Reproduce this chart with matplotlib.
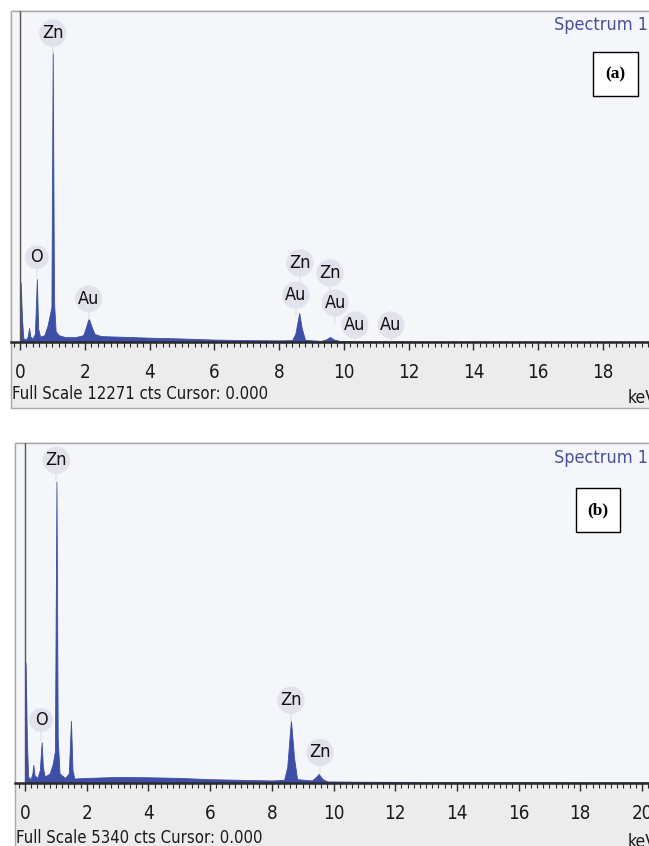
import matplotlib
matplotlib.use('Agg')
import matplotlib.pyplot as plt
from matplotlib import font_manager
from matplotlib.patches import Rectangle
from matplotlib.ticker import MultipleLocator

# spectrum (a): energy in keV, counts
kev_a = [0.00, 0.02, 0.06, 0.10, 0.18, 0.24, 0.28, 0.32, 0.38, 0.46, 0.52, 0.56, 0.62,
         0.75, 0.85, 0.92, 0.97, 1.01, 1.05, 1.10, 1.20, 1.40, 1.70, 1.95, 2.05, 2.12,
         2.20, 2.30, 2.50, 3.00, 4.00, 5.00, 6.00, 7.00, 8.00, 8.40, 8.50, 8.62, 8.70,
         8.80, 9.30, 9.45, 9.57, 9.70, 9.90, 11.0, 14.0, 19.5]
cts_a = [0, 2220, 900, 150, 80, 200, 520, 200, 120, 300, 2330, 500, 200,
         250, 600, 1000, 1300, 10820, 1500, 400, 250, 180, 180, 250, 600, 890,
         600, 300, 220, 200, 160, 130, 90, 70, 60, 70, 300, 1075, 500,
         80, 40, 100, 185, 90, 30, 25, 20, 15]

# spectrum (b)
kev_b = [0.00, 0.02, 0.06, 0.10, 0.18, 0.24, 0.27, 0.31, 0.40, 0.48, 0.54, 0.58, 0.64,
         0.80, 0.90, 0.97, 1.02, 1.06, 1.12, 1.30, 1.42, 1.49, 1.54, 1.60, 2.00, 3.00,
         4.00, 5.00, 6.00, 7.00, 8.00, 8.40, 8.50, 8.62, 8.72, 8.82, 9.30, 9.42, 9.52,
         9.65, 9.80, 11.0, 14.0, 20.3]
cts_b = [0, 1885, 700, 100, 60, 150, 283, 120, 80, 200, 640, 250, 100,
         150, 300, 500, 4730, 700, 150, 80, 150, 975, 200, 70, 80, 95,
         90, 80, 60, 50, 40, 50, 250, 990, 400, 60, 40, 90, 141,
         60, 25, 20, 15, 10]

full_scale_a = 12271
full_scale_b = 5340

# peak labels: text, keV, label height in counts
labels_a = [('Zn', 1.01, 11450), ('O', 0.52, 3140), ('Au', 2.12, 1600),
            ('Zn', 8.64, 2930), ('Au', 8.52, 1740), ('Zn', 9.57, 2560),
            ('Au', 9.73, 1450), ('Au', 10.34, 630), ('Au', 11.45, 630)]
labels_b = [('Zn', 1.02, 5070), ('O', 0.52, 990), ('Zn', 8.62, 1300), ('Zn', 9.56, 480)]

W, H = 649, 846

# look for a narrow sans font, fall back to Liberation Sans
narrow = None
for f in font_manager.fontManager.ttflist:
    fn = f.fname.lower()
    if ('narrow' in fn or 'condensed' in fn) and 'bold' not in fn and 'oblique' not in fn \
            and 'italic' not in fn and 'mono' not in fn and 'serif' not in fn.replace('sans', ''):
        narrow = font_manager.FontProperties(fname=f.fname)
        break
if narrow is None:
    narrow = font_manager.FontProperties(family='Liberation Sans')
    scale = 0.88
else:
    scale = 1.0

fig = plt.figure(figsize=(W / 100, H / 100), dpi=100)


def box(x0, y0, x1, y1):
    return [x0 / W, 1 - y1 / H, (x1 - x0) / W, (y1 - y0) / H]


def rect(x0, y0, x1, y1, z=-5, **kw):
    fig.patches.append(Rectangle((x0 / W, 1 - y1 / H), (x1 - x0) / W, (y1 - y0) / H,
                                 transform=fig.transFigure, zorder=z, **kw))


def fp(size):
    p = narrow.copy()
    p.set_size(size * scale)
    return p


def panel(left, top, base, bottom, zero_px, px_per_kev, kev, cts, full, labels,
          tick_max, tag, tag_box, txt_y, full_y):
    # frame and grey scale bar
    rect(left, top, W + 2, bottom, facecolor='#ececec', edgecolor='#a8a8a8', lw=1)
    rect(left, top, W + 2, base, facecolor='#f5f6fa', edgecolor='#a8a8a8', lw=1)
    ax = fig.add_axes(box(left, top, W, base))
    ax.patch.set_alpha(0)
    ax.set_xlim(-(zero_px - left) / px_per_kev, (W - zero_px) / px_per_kev)
    ax.set_ylim(0, full)
    ax.fill_between(kev, cts, 0, color='#3d4ea6', lw=0.6, edgecolor='#3d4ea6')
    ax.axvline(0, color='#555555', lw=1)
    for s in ['top', 'left', 'right']:
        ax.spines[s].set_visible(False)
    ax.spines['bottom'].set_color('#2a2a2a')
    ax.spines['bottom'].set_linewidth(1.8)
    ax.set_yticks([])
    ax.set_xticks(range(0, tick_max + 1, 2))
    ax.xaxis.set_minor_locator(MultipleLocator(0.2))
    ax.tick_params(axis='x', which='major', direction='out', length=6, width=1,
                   color='#2a2a2a', pad=9)
    ax.tick_params(axis='x', which='minor', direction='out', length=3.5, width=0.8,
                   color='#2a2a2a')
    for lb in ax.get_xticklabels():
        lb.set_fontproperties(fp(13.5))
        lb.set_color('#1a1a1a')
    for t, e, c in labels:
        ax.plot([e, e], [c - full * 0.06, c - full * 0.035], color='#e4e5ee',
                lw=1.2, zorder=1)
        ax.text(e, c, t, ha='center', va='center', fontproperties=fp(13),
                color='#111111', zorder=3,
                bbox=dict(boxstyle='circle,pad=0.16', facecolor='#e1e2ec',
                          edgecolor='none'))
    fig.text(648 / W, 1 - txt_y / H, 'Spectrum 1', ha='right', va='center',
             fontproperties=fp(13), color='#4a4f9e')
    bx0, by0, bx1, by1 = tag_box
    rect(bx0, by0, bx1, by1, z=5, facecolor='white', edgecolor='black', lw=1)
    fig.text((bx0 + bx1) / 2 / W, 1 - (by0 + by1) / 2 / H, tag, ha='center',
             va='center', fontsize=12.5, family='Liberation Serif', weight='bold',
             zorder=6)
    fig.text((left + 1) / W, 1 - full_y / H,
             'Full Scale %d cts Cursor: 0.000' % full, ha='left', va='center',
             fontproperties=fp(12), color='#1a1a1a')
    fig.text(628 / W, 1 - (full_y + 4) / H, 'keV', ha='left', va='center',
             fontproperties=fp(12.5), color='#1a1a1a')


panel(11, 11, 342, 408, 20, 32.39, kev_a, cts_a, full_scale_a, labels_a, 18,
      '(a)', (593, 52, 638, 96), 25, 394)
panel(15, 443, 783, 850, 25, 30.85, kev_b, cts_b, full_scale_b, labels_b, 20,
      '(b)', (576, 488, 620, 532), 458, 838)

fig.savefig('out.png', dpi=100)
